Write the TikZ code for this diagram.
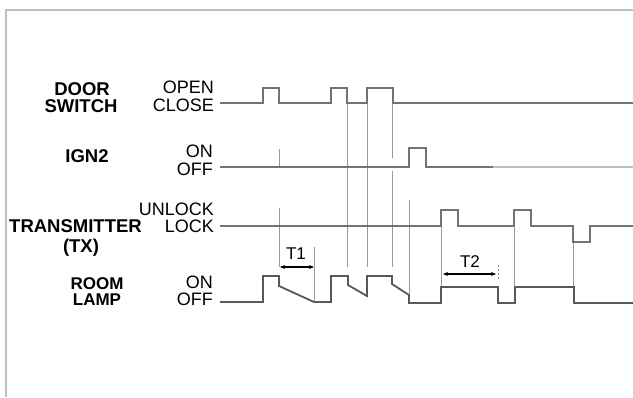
\documentclass[tikz,border=0pt]{standalone}
\usepackage{fontspec}
\setmainfont{Liberation Sans}
\usetikzlibrary{arrows.meta}
\begin{document}
\begin{tikzpicture}[x=1pt,y=-1pt,
  sig/.style={draw=black!55,line width=1.8pt,line join=miter},
  lamp/.style={draw=black!65,line width=1.8pt,line join=miter},
  guide/.style={draw=black!40,line width=0.9pt},
  lbl/.style={inner sep=0pt,font=\fontsize{18}{20}\selectfont},
  blbl/.style={inner sep=0pt,font=\fontsize{18.5}{20}\selectfont\bfseries},
  tlbl/.style={inner sep=0pt,font=\fontsize{17}{19}\selectfont},
  dim/.style={draw=black,line width=1.1pt,{Stealth[length=5pt,width=4pt]}-{Stealth[length=5pt,width=4pt]}}]
\useasboundingbox (0,0) rectangle (633,397);
% frame
\draw[draw=black!25,line width=2pt] (6,397) -- (6,10) -- (633,10);
% labels
\node[blbl,anchor=base] (door) at (82,95) {DOOR};
\node[blbl,anchor=base] (switch) at (81,112) {SWITCH};
\node[lbl,anchor=base east] (open) at (214,93) {OPEN};
\node[lbl,anchor=base east] (close) at (214,111) {CLOSE};
\node[blbl,anchor=base] (ign) at (87,162) {IGN2};
\node[lbl,anchor=base east] (ignon) at (213,157) {ON};
\node[lbl,anchor=base east] (ignoff) at (213,175) {OFF};
\node[lbl,anchor=base east] (unlock) at (214,215) {UNLOCK};
\node[blbl,anchor=base west] (tx) at (9,232) {TRANSMITTER};
\node[blbl,anchor=base] (txp) at (81,252) {(TX)};
\node[lbl,anchor=base east] (lock) at (214,232) {LOCK};
\node[blbl,anchor=base,font=\fontsize{17}{19}\selectfont\bfseries] (room) at (97,289) {ROOM};
\node[blbl,anchor=base,font=\fontsize{17}{19}\selectfont\bfseries] (lampl) at (97,305) {LAMP};
\node[lbl,anchor=base east] (lon) at (213,288) {ON};
\node[lbl,anchor=base east] (loff) at (213,305) {OFF};
\node[tlbl,anchor=base] (t1) at (296,259) {T1};
\node[tlbl,anchor=base] (t2) at (470,267) {T2};
% guide lines
\draw[guide] (279,149) -- (279,167);
\draw[guide] (279,208) -- (279,267);
\draw[guide] (314,247) -- (314,302);
\draw[guide] (347,103) -- (347,267);
\draw[guide] (367,103) -- (367,267);
\draw[guide] (392,103) -- (392,158);
\draw[guide] (392,171) -- (392,267);
\draw[guide] (409,200) -- (409,303);
\draw[guide] (441,226) -- (441,287);
\draw[guide] (514,226) -- (514,287);
\draw[guide] (573,226) -- (573,303);
\draw[guide,dash pattern=on 2pt off 2pt] (498,265) -- (498,279);
% door switch
\draw[sig] (220,103) -- (263,103) -- (263,88) -- (279,88) -- (279,103) -- (331,103) -- (331,88) -- (347,88) -- (347,103) -- (367,103) -- (367,88) -- (393,88) -- (393,103) -- (633,103);
% ign2
\draw[sig] (220,167) -- (409,167) -- (409,148) -- (426,148) -- (426,167) -- (493,167);
\draw[sig,draw=black!25] (493,167) -- (633,167);
% transmitter
\draw[sig] (220,226) -- (441,226) -- (441,210) -- (458,210) -- (458,226) -- (514,226) -- (514,210) -- (531,210) -- (531,226) -- (573,226) -- (573,242) -- (590,242) -- (590,226) -- (633,226);
% room lamp
\draw[lamp] (220,302) -- (263,302) -- (263,276) -- (279,276) -- (279,286) -- (314,302) -- (331,302) -- (331,276) -- (348,276) -- (348,285) -- (367,296) -- (367,276) -- (392,276) -- (392,284) -- (409,295) -- (409,303) -- (441,303) -- (441,287) -- (498,287) -- (498,303) -- (515,303) -- (515,287) -- (574,287) -- (574,303) -- (633,303);
% dimensions
\coordinate (t1a) at (280,267);
\coordinate (t1b) at (314,267);
\coordinate (t2a) at (443,274);
\coordinate (t2b) at (496,274);
\draw[dim] (t1a) -- (t1b);
\draw[dim] (t2a) -- (t2b);
\end{tikzpicture}
\end{document}
